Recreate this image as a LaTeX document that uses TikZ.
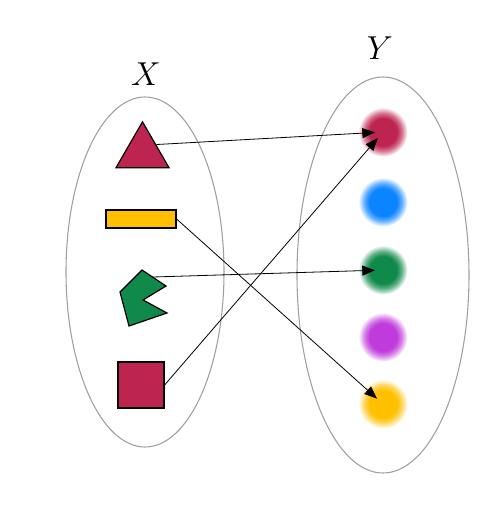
\documentclass[tikz,border=0pt]{standalone}
\usetikzlibrary{shapes.geometric,arrows.meta}
\definecolor{crim}{RGB}{190,36,80}
\definecolor{gold}{RGB}{255,192,0}
\definecolor{grn}{RGB}{16,138,74}
\definecolor{blu}{RGB}{10,132,255}
\definecolor{purp}{RGB}{192,59,219}
\makeatletter
\pgfdeclareradialshading[tikz@ball]{blurdot}{\pgfpointorigin}{%
  color(0bp)=(tikz@ball);color(14bp)=(tikz@ball);color(19bp)=(tikz@ball!65!white);color(25bp)=(white);color(50bp)=(white)}
\tikzset{blur color/.code={\pgfutil@colorlet{tikz@ball}{#1}\def\tikz@shading{blurdot}\tikz@addmode{\tikz@mode@shadetrue}}}
\makeatother
\tikzset{
  setell/.style={draw=gray!75, line width=0.8pt},
  dot/.style={circle, minimum size=37pt, inner sep=0pt, blur color=#1},
  shp/.style={draw=black, line width=0.9pt},
  arr/.style={line width=0.6pt, -{Triangle[length=9.5pt,width=7.5pt]}, shorten >=6pt},
  lab/.style={font=\fontsize{29}{32}\selectfont}
}
\begin{document}
\begin{tikzpicture}[x=0.75pt,y=-0.75pt]
\useasboundingbox (0,0) rectangle (489,511);
% sets
\node[setell, ellipse, minimum width=118.5pt, minimum height=262.5pt, inner sep=0pt] (SX) at (145,272) {};
\node[setell, ellipse, minimum width=129pt, minimum height=297pt, inner sep=0pt] (SY) at (383,275) {};
\node[lab] (LX) at (146,74) {$X$};
\node[lab] (LY) at (380,48) {$Y$};
% left shapes
\node[shp, fill=crim, regular polygon, regular polygon sides=3, minimum size=46pt, inner sep=0pt] (tri) at (142.5,152.5) {};
\node[shp, fill=gold, rectangle, minimum width=52.5pt, minimum height=13.5pt, inner sep=0pt] (rect) at (141,219) {};
\filldraw[shp, fill=grn] (142,270) -- (166,286) -- (143,300) -- (167,313) -- (129,326) -- (120,292) -- cycle;
\coordinate (pac) at (153,277);
\node[shp, fill=crim, rectangle, minimum size=34.5pt, inner sep=0pt] (sq) at (141,385) {};
% right dots
\node[dot=crim] (d1) at (383,132) {};
\node[dot=blu] (d2) at (383,202) {};
\node[dot=grn] (d3) at (383,270) {};
\node[dot=purp] (d4) at (383,337) {};
\node[dot=gold] (d5) at (383,404) {};
% arrows
\draw[arr] (tri.side 3) -- (d1.center);
\draw[arr] (sq.east) -- (d1.center);
\draw[arr] (rect.east) -- (d5.center);
\draw[arr] (pac) -- (d3.center);
\end{tikzpicture}
\end{document}
